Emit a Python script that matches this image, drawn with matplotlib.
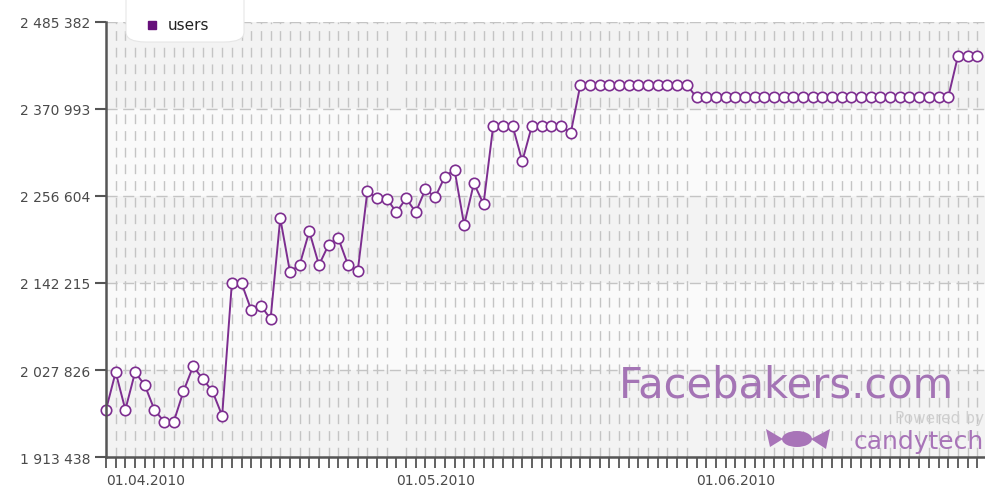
import matplotlib
matplotlib.use("Agg")
import matplotlib.pyplot as plt
import matplotlib.dates as mdates
import pandas as pd
from matplotlib.patches import FancyBboxPatch, Ellipse, Polygon

# ── Data ─────────────────────────────────────────────────────────────────────
START_DATE = "2010-04-01"
USERS = [
    1975900, 2024990, 1975900, 2024990, 2008300, 1975900, 1960200, 1960200,
    2000000, 2032900, 2016200, 2000000, 1968000, 2142000, 2142000, 2106800,
    2112400, 2094900, 2227100, 2157000, 2165800, 2210000, 2165800, 2192500,
    2200900, 2165800, 2157300, 2262700, 2253300, 2253000, 2235000, 2253300,
    2235000, 2265500, 2254700, 2281700, 2290900, 2218300, 2273000, 2245900,
    2348600, 2348600, 2348600, 2301900, 2348600, 2348600, 2348600, 2348600,
    2338700,
] + [2402000] * 12 + [2385900] * 27 + [2439700] * 3
Y_TICKS  = [1913438, 2027826, 2142215, 2256604, 2370993, 2485382]
Y_LABELS = ["1 913 438", "2 027 826", "2 142 215", "2 256 604", "2 370 993", "2 485 382"]
SERIES_NAME = "users"
# ─────────────────────────────────────────────────────────────────────────────

W, H = 985, 489
LINE_C = "#7d2e90"
TEXT_C = "#4a4a4a"
GRID_C = "#c4c4c4"

dates = pd.date_range(START_DATE, periods=len(USERS), freq="D")

fig = plt.figure(figsize=(W / 100, H / 100), dpi=100)
fig.patch.set_facecolor("white")
ax = fig.add_axes([106 / W, 1 - 458.3 / H, 1 - 106 / W, (458.3 - 22.5) / H])
ax.set_facecolor("#f7f7f7")

# alternating bands
for i in range(len(Y_TICKS) - 1):
    col = "#f3f3f3" if i % 2 == 0 else "#fafafa"
    ax.axhspan(Y_TICKS[i], Y_TICKS[i + 1], color=col, zorder=0, lw=0)

ax.set_xlim(dates[0], dates[0] + pd.Timedelta(days=90.8))
ax.set_ylim(Y_TICKS[0], Y_TICKS[-1])

ax.plot(dates, USERS, "-o", color=LINE_C, lw=1.4, ms=7.5,
        mfc="white", mec=LINE_C, mew=1.2, zorder=5, clip_on=False)

# axes styling
for s in ("top", "right"):
    ax.spines[s].set_visible(False)
for s in ("left", "bottom"):
    ax.spines[s].set_color("#555555")
    ax.spines[s].set_linewidth(1.8)
    ax.spines[s].set_zorder(6)

ax.set_yticks(Y_TICKS)
ax.set_yticklabels(Y_LABELS)
ax.tick_params(axis="y", length=8, width=1.5, color="#555555",
               labelsize=10, labelcolor=TEXT_C, pad=3)

ax.xaxis.set_major_locator(mdates.MonthLocator())
ax.xaxis.set_major_formatter(mdates.DateFormatter("%d.%m.%Y"))
ax.xaxis.set_minor_locator(mdates.DayLocator())
ax.tick_params(axis="x", which="both", length=8, width=1.3, color="#555555",
               labelsize=10, labelcolor=TEXT_C, pad=3)
for lbl in ax.get_xticklabels():
    lbl.set_ha("left")

ax.grid(axis="x", which="minor", color=GRID_C, lw=1.0, ls=(0, (7, 5)), zorder=1)
ax.grid(axis="y", which="major", color=GRID_C, lw=1.0, ls=(0, (8, 4)), zorder=1)
ax.set_axisbelow(True)

# legend box (cut off by top edge)
fig.patches.append(FancyBboxPatch((126 / W, 1 - 43 / H), 118 / W, 60 / H,
                                  boxstyle="round,pad=0,rounding_size=0.02",
                                  transform=fig.transFigure, fc="white",
                                  ec="#e6e6e6", lw=0.8, zorder=10))
fig.lines.append(plt.Line2D([152 / W], [1 - 26 / H], marker="s", ms=6,
                            color="#66107a", transform=fig.transFigure, zorder=11))
fig.text(168 / W, 1 - 26 / H, SERIES_NAME, fontsize=11, color="#222222",
         va="center", ha="left", zorder=11)

# watermark
fig.text(786 / W, 1 - 398 / H, "Facebakers.com", fontsize=30, color="#a474b5",
         ha="center", va="baseline", zorder=4)
fig.text(984 / W, 1 - 423 / H, "Powered by", fontsize=11, color="#d0d0d0",
         ha="right", va="baseline", zorder=4)
fig.text(984 / W, 1 - 449 / H, "candytech", fontsize=18, color="#a874b8",
         ha="right", va="baseline", zorder=4)
candy = "#a874b8"
fig.patches.append(Ellipse((797 / W, 1 - 440 / H), 30 / W, 16 / H,
                           transform=fig.transFigure, fc=candy, ec="none", zorder=4))
fig.patches.append(Polygon([(783 / W, 1 - 440 / H), (766 / W, 1 - 430 / H),
                            (770 / W, 1 - 448 / H)], closed=True,
                           transform=fig.transFigure, fc=candy, ec="none", zorder=4))
fig.patches.append(Polygon([(811 / W, 1 - 440 / H), (830 / W, 1 - 430 / H),
                            (826 / W, 1 - 450 / H)], closed=True,
                           transform=fig.transFigure, fc=candy, ec="none", zorder=4))

fig.savefig("out.png", dpi=100)
